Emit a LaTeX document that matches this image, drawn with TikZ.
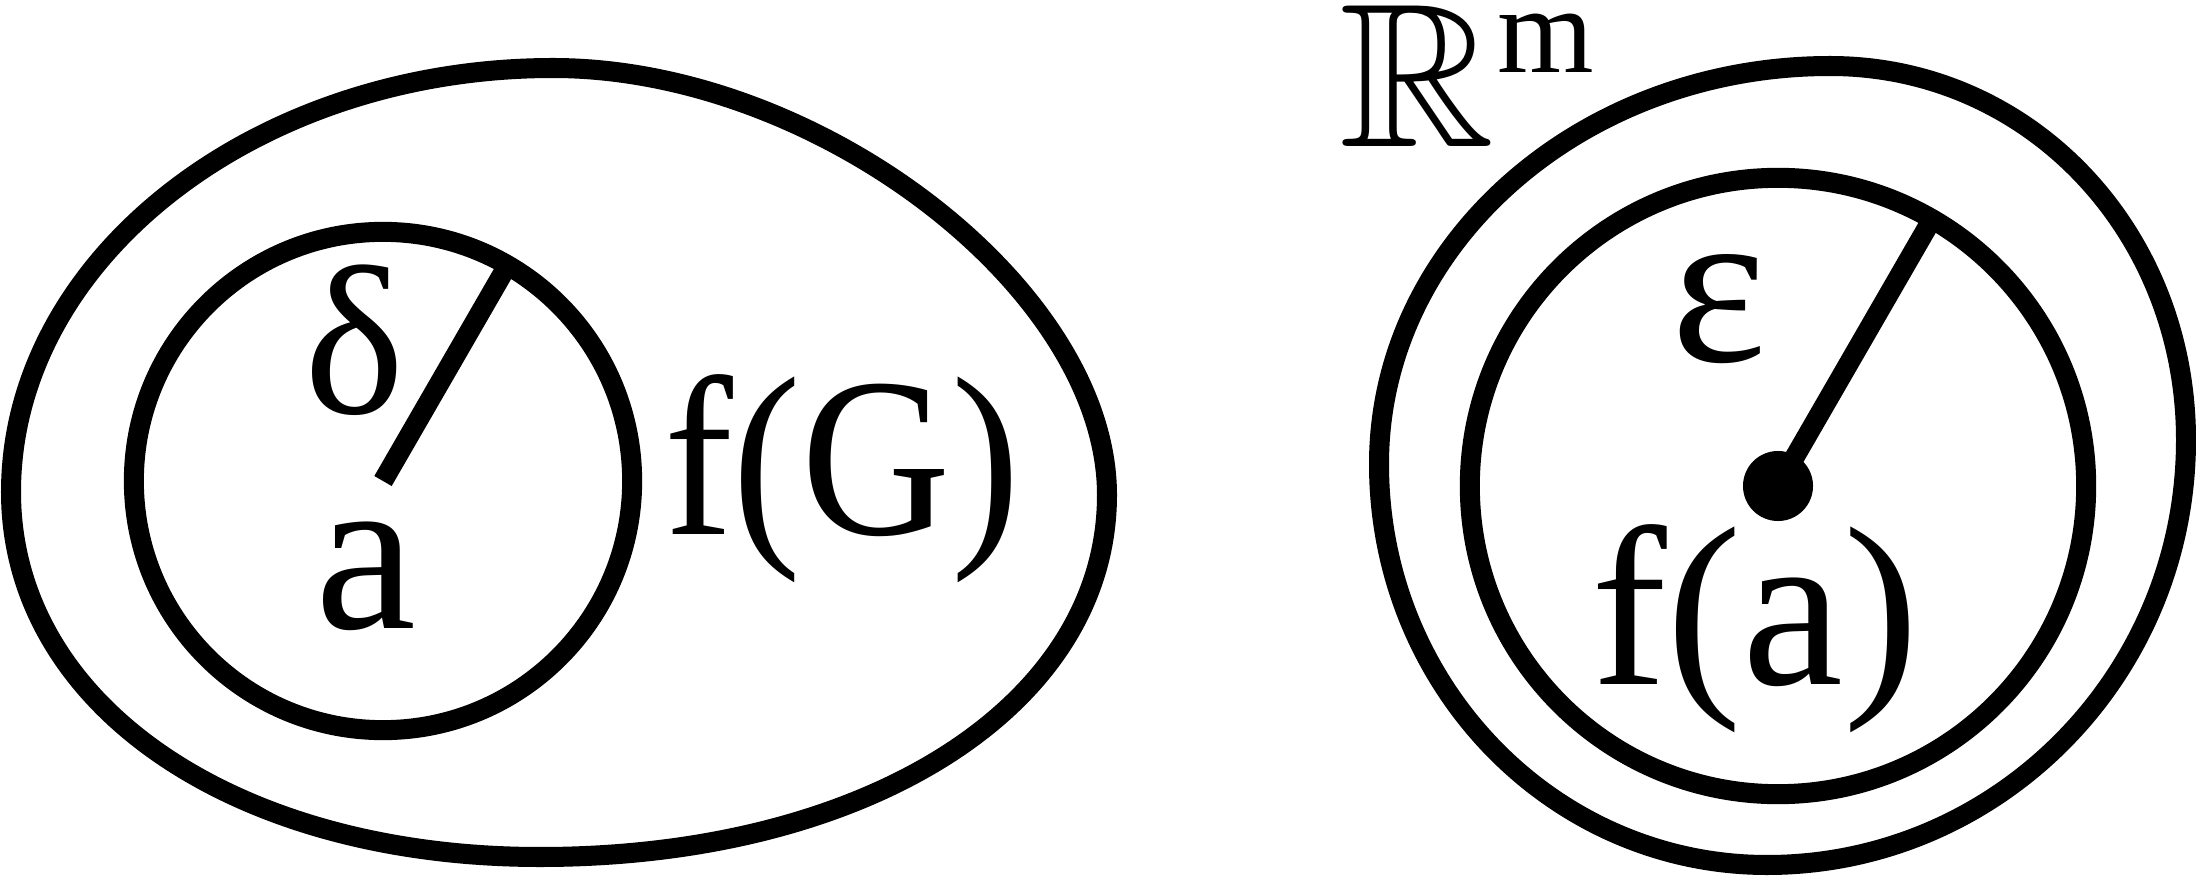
\documentclass[tikz,border=0pt]{standalone}
\usepackage{fontspec}
\usepackage{amssymb}
\usepackage{graphicx}
\setmainfont{Liberation Serif}
\tikzset{
  outline/.style={line width=0.2cm, line join=round},
  ball/.style={draw, circle, line width=0.2cm, inner sep=0pt, outer sep=0pt},
  radius line/.style={line width=0.2cm},
  lbl/.style={inner sep=0pt, anchor=base, font=\fontsize{64.6}{70}\selectfont},
}
\begin{document}
\begin{tikzpicture}[x=0.01cm,y=-0.01cm]
\useasboundingbox (0,0) rectangle (2196,876);
% left region G
\draw[outline] (553,68) .. controls (819,68) and (1107,290) .. (1107,495)
  .. controls (1107,705) and (869,857) .. (540,857)
  .. controls (233,857) and (11,704) .. (11,492)
  .. controls (11,259) and (255,68) .. cycle;
% right region
\draw[outline] (1830,66) .. controls (2029,66) and (2186,231) .. (2186,440)
  .. controls (2186,675) and (1998,865) .. (1767,865)
  .. controls (1553,865) and (1379,686) .. (1379,464)
  .. controls (1379,244) and (1581,66) .. cycle;
% balls
\node[ball, minimum size=4.98cm] (ballL) at (383,481) {};
\node[ball, minimum size=6.16cm] (ballR) at (1778,486) {};
\node[circle, fill, inner sep=0pt, minimum size=0.7cm] (dot) at (1778,486) {};
\draw[radius line] (ballL.center) -- (ballL.60);
\draw[radius line] (dot.center) -- (ballR.60);
% labels
\node[lbl, font=\fontsize{60.5}{66}\selectfont] (delta) at (355,413) {δ};
\node[lbl] (aL) at (366,628) {a};
\node[lbl] (fG) at (842,534) {\scalebox{0.91}[1]{f(G)}};
\node[lbl] (eps) at (1719,362) {ε};
\node[lbl] (fa) at (1755,684) {f(a)};
\node[inner sep=0pt, anchor=base west, font=\fontsize{58.3}{60}\selectfont] (Rm) at (1339,147)
  {\scalebox{1.05}[1]{$\mathbb{R}$}\hspace{0.02cm}\raisebox{0.74cm}{\fontsize{35.3}{40}\selectfont m}};
\end{tikzpicture}
\end{document}
